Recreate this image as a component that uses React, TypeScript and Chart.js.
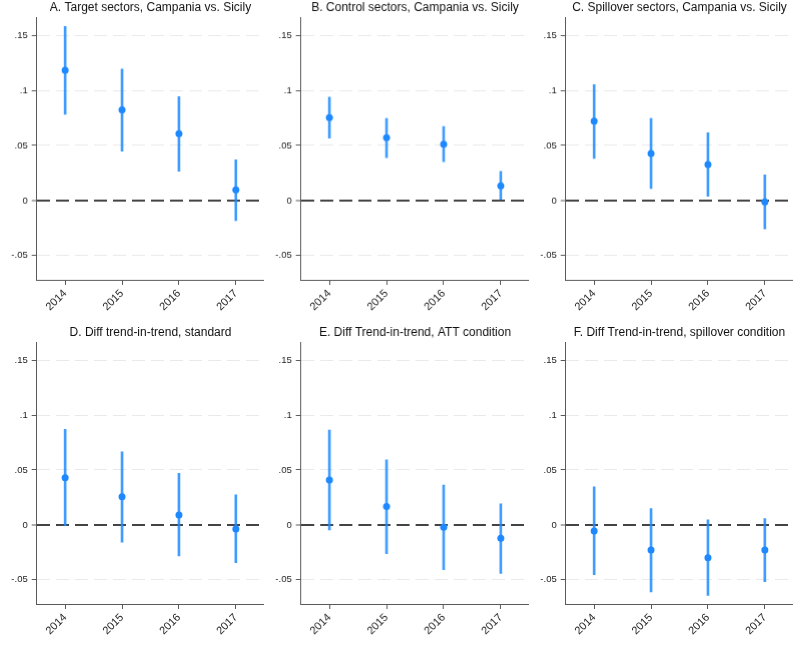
import React, { useEffect, useRef } from "react";
import { Chart, registerables } from "chart.js";

Chart.register(...registerables);

const years = ["2014", "2015", "2016", "2017"];
const yTickValues = [-0.05, 0, 0.05, 0.1, 0.15];
const yTickLabels = ["-.05", "0", ".05", ".1", ".15"];
const yMin = -0.072;
const yMax = 0.1665;

const titles = [
  "A. Target sectors, Campania vs. Sicily",
  "B. Control sectors, Campania vs. Sicily",
  "C. Spillover sectors, Campania vs. Sicily",
  "D. Diff trend-in-trend, standard",
  "E. Diff Trend-in-trend, ATT condition",
  "F. Diff Trend-in-trend, spillover condition",
];

const aEst = [0.1182, 0.0824, 0.0606, 0.0097];
const aLo = [0.0782, 0.0448, 0.0267, -0.0182];
const aHi = [0.158, 0.1194, 0.0942, 0.037];

const bEst = [0.0752, 0.057, 0.0512, 0.0133];
const bLo = [0.0567, 0.039, 0.0352, 0.0];
const bHi = [0.0939, 0.0745, 0.0673, 0.0264];

const cEst = [0.0721, 0.0427, 0.0327, -0.0012];
const cLo = [0.0382, 0.0109, 0.0039, -0.0258];
const cHi = [0.1052, 0.0745, 0.0615, 0.0233];

const dEst = [0.0429, 0.0256, 0.0091, -0.0037];
const dLo = [-0.0006, -0.0158, -0.0283, -0.0344];
const dHi = [0.087, 0.0666, 0.0469, 0.0274];

const eEst = [0.0408, 0.0167, -0.0021, -0.0122];
const eLo = [-0.0046, -0.0262, -0.0408, -0.0441];
const eHi = [0.0864, 0.0593, 0.0362, 0.0192];

const fEst = [-0.0055, -0.0228, -0.0298, -0.0228];
const fLo = [-0.0453, -0.0609, -0.0642, -0.0517];
const fHi = [0.0347, 0.0149, 0.0046, 0.0058];

const panelEst = [aEst, bEst, cEst, dEst, eEst, fEst];
const panelLo = [aLo, bLo, cLo, dLo, eLo, fLo];
const panelHi = [aHi, bHi, cHi, dHi, eHi, fHi];

const FONT = "'Liberation Sans', Arial, Helvetica, sans-serif";
const POINT_COLOR = "#1e88ff";
const BAR_COLOR = "rgba(30,140,255,0.85)";
const AXIS_COLOR = "#5a5a5a";
const GRID_COLOR = "#e9e9e9";
const ZERO_COLOR = "#444444";

const PANEL_W = 793 / 3;
const PANEL_H = 649 / 2;

function Panel({ title, est, lo, hi }: { title: string; est: number[]; lo: number[]; hi: number[] }) {
  const ref = useRef<HTMLCanvasElement | null>(null);
  useEffect(() => {
    if (!ref.current) return;
    const chart = new Chart(ref.current, {
      type: "bar",
      data: {
        labels: years,
        datasets: [
          {
            type: "line",
            data: est,
            showLine: false,
            pointRadius: 3.5,
            pointBackgroundColor: POINT_COLOR,
            pointBorderWidth: 0,
            order: 0,
          } as any,
          {
            type: "bar",
            data: lo.map((l, i) => [l, hi[i]]),
            backgroundColor: BAR_COLOR,
            barThickness: 2,
            borderWidth: 0,
            borderSkipped: false,
            order: 1,
          } as any,
        ],
      },
      options: {
        animation: false,
        responsive: true,
        maintainAspectRatio: false,
        events: [],
        layout: { padding: 0, autoPadding: false },
        plugins: {
          legend: { display: false },
          tooltip: { enabled: false },
          title: {
            display: true,
            text: title,
            fullSize: false,
            color: "#111111",
            font: { family: FONT, size: 12, weight: "normal" as any },
            padding: { top: 0.4, bottom: 2.2 },
          },
        },
        scales: {
          x: {
            type: "category",
            offset: true,
            grid: {
              offset: false,
              drawOnChartArea: false,
              drawTicks: true,
              tickLength: 5,
              tickColor: AXIS_COLOR,
              tickWidth: 1,
            },
            border: { display: true, color: AXIS_COLOR, width: 1 },
            ticks: {
              minRotation: 45,
              maxRotation: 45,
              autoSkip: false,
              padding: 2,
              color: "#222222",
              font: { family: FONT, size: 11 },
            },
            afterFit: (s: any) => {
              s.height = 45.5;
              s.paddingLeft = 0;
              s.paddingRight = 0;
            },
          },
          y: {
            type: "linear",
            min: yMin,
            max: yMax,
            afterBuildTicks: (s: any) => {
              s.ticks = yTickValues.map((v) => ({ value: v }));
            },
            grid: {
              drawOnChartArea: true,
              drawTicks: true,
              tickLength: 5,
              tickColor: AXIS_COLOR,
              tickWidth: 1,
              tickBorderDash: [],
              color: (ctx: any) => (ctx.tick && ctx.tick.value === 0 ? ZERO_COLOR : GRID_COLOR),
              lineWidth: (ctx: any) => (ctx.tick && ctx.tick.value === 0 ? 2 : 1),
            },
            border: { display: true, color: AXIS_COLOR, width: 1, dash: [13, 6] },
            ticks: {
              padding: 4,
              color: "#222222",
              font: { family: FONT, size: 9.5 },
              callback: (v: any) => {
                const idx = yTickValues.findIndex((t) => Math.abs(t - Number(v)) < 1e-9);
                return idx >= 0 ? yTickLabels[idx] : "";
              },
            },
            afterFit: (s: any) => {
              s.width = 36.7;
              s.paddingTop = 0;
              s.paddingBottom = 0;
            },
          },
        },
      } as any,
    });
    return () => chart.destroy();
  }, [title, est, lo, hi]);
  return <canvas ref={ref} />;
}

export default function App() {
  return (
    <div
      style={{
        position: "absolute",
        left: 0,
        top: 0,
        width: 793,
        height: 649,
        background: "#ffffff",
        overflow: "hidden",
      }}
    >
      {titles.map((t, i) => (
        <div
          key={t}
          style={{
            position: "absolute",
            left: (i % 3) * PANEL_W,
            top: Math.floor(i / 3) * PANEL_H,
            width: PANEL_W,
            height: PANEL_H,
          }}
        >
          <Panel title={t} est={panelEst[i]} lo={panelLo[i]} hi={panelHi[i]} />
        </div>
      ))}
    </div>
  );
}
